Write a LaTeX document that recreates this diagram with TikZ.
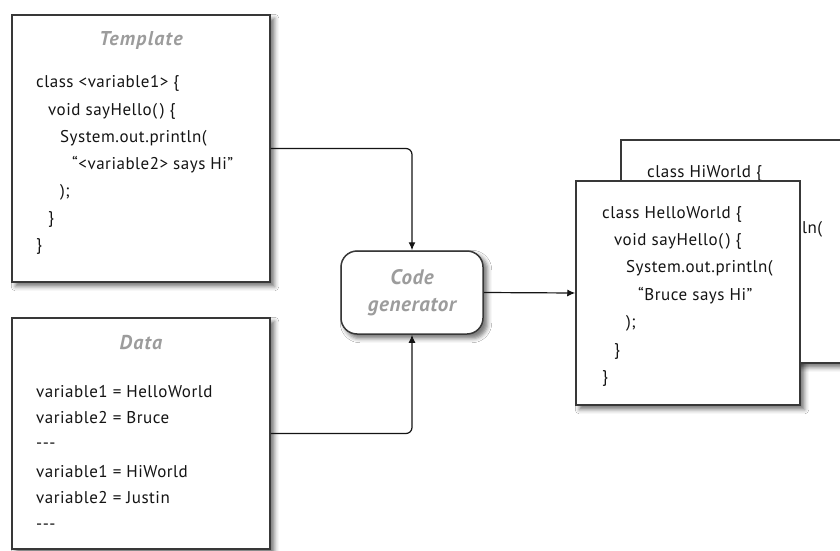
\documentclass[tikz,border=0pt]{standalone}
\usepackage{fontspec}
\setmainfont{PT Sans}
\newfontfamily\bodyfont[LetterSpace=3]{PT Sans}
\newfontfamily\ttlfont[LetterSpace=6]{PT Sans}
\newfontfamily\cgfont[LetterSpace=3]{PT Sans}
\usetikzlibrary{arrows.meta,shadows.blur}
\definecolor{ink}{HTML}{141414}
\definecolor{edge}{HTML}{383838}
\definecolor{ttlgray}{HTML}{9C9C9C}
\pgfdeclarelayer{bg}
\pgfsetlayers{bg,main}
\tikzset{
  box/.style={draw=edge, line width=1.5pt, fill=white, rectangle, inner sep=0pt},
  shadowonly/.style={blur shadow={shadow xshift=4pt, shadow yshift=-4pt, shadow blur radius=4pt, shadow opacity=50}},
  code/.style={anchor=base west, inner sep=0pt, text=ink, font=\bodyfont\fontsize{17}{20}\selectfont},
  title/.style={anchor=base, inner sep=0pt, text=ttlgray, font=\ttlfont\fontsize{20}{24}\selectfont\bfseries\itshape},
  conn/.style={draw=ink, line width=1.2pt, rounded corners=6pt, -{Latex[length=8pt,width=7pt]}},
}
\begin{document}
\begin{tikzpicture}[x=1pt,y=-1pt]
\useasboundingbox (0,0) rectangle (840,551);
\clip (0,0) rectangle (840,551);

% Template
\node[box, minimum width=258pt, minimum height=267pt] (tpl) at (141,148.5) {};
\node[title] (tplt) at (141,46) {Template};
\node[code] (t1) at (36,88) {class <variable1> \{};
\node[code] (t2) at (48,115) {void sayHello(\,) \{};
\node[code] (t3) at (60,142) {System.out.println(};
\node[code] (t4) at (72,169) {“<variable2> says Hi”};
\node[code] (t5) at (60,196) {);};
\node[code] (t6) at (48,223) {\}};
\node[code] (t7) at (36,250) {\}};

% Data
\node[box, minimum width=258pt, minimum height=231pt] (data) at (141,433.5) {};
\node[title] (datat) at (141,349) {Data};
\node[code] (d1) at (36,397) {variable1 = HelloWorld};
\node[code] (d2) at (36,423.5) {variable2 = Bruce};
\node[code] (d3) at (36,448) {-{}-{}-};
\node[code] (d4) at (36,477) {variable1 = HiWorld};
\node[code] (d5) at (36,503.5) {variable2 = Justin};
\node[code] (d6) at (36,529) {-{}-{}-};

% Code generator
\node[box, rounded corners=16pt, minimum width=142pt, minimum height=83pt, align=center,
      text=ttlgray, font=\cgfont\fontsize{21}{27}\selectfont\bfseries\itshape] (cg) at (412,292.5) {Code\\generator};

% Back output (mostly hidden behind the front one)
\node[box, minimum width=279pt, minimum height=223pt] (back) at (760.5,251.5) {};
\node[code] (b1) at (647,177) {class HiWorld \{};
\node[code] (b3) at (802,233) {ln(};

% Front output
\node[box, minimum width=224pt, minimum height=224pt] (front) at (688,293) {};
\node[code] (f1) at (602,218) {class HelloWorld \{};
\node[code] (f2) at (614,245) {void sayHello(\,) \{};
\node[code] (f3) at (626,272) {System.out.println(};
\node[code] (f4) at (638,300) {“Bruce says Hi”};
\node[code] (f5) at (626,327) {);};
\node[code] (f6) at (614,355) {\}};
\node[code] (f7) at (602,382) {\}};

% connectors
\draw[conn] (tpl.east) -| (cg.north);
\draw[conn] (data.east) -| (cg.south);
\draw[conn] (cg.east) -- (front.west);

% background and shadows
\begin{pgfonlayer}{bg}
\fill[white] (0,0) rectangle (840,551);
\path[shadowonly] (tpl.north west) rectangle (tpl.south east);
\path[shadowonly] (data.north west) rectangle (data.south east);
\path[shadowonly, rounded corners=16pt] (cg.north west) rectangle (cg.south east);
\path[shadowonly] (back.north west) rectangle (back.south east);
\path[shadowonly] (front.north west) rectangle (front.south east);
\end{pgfonlayer}
\end{tikzpicture}
\end{document}
